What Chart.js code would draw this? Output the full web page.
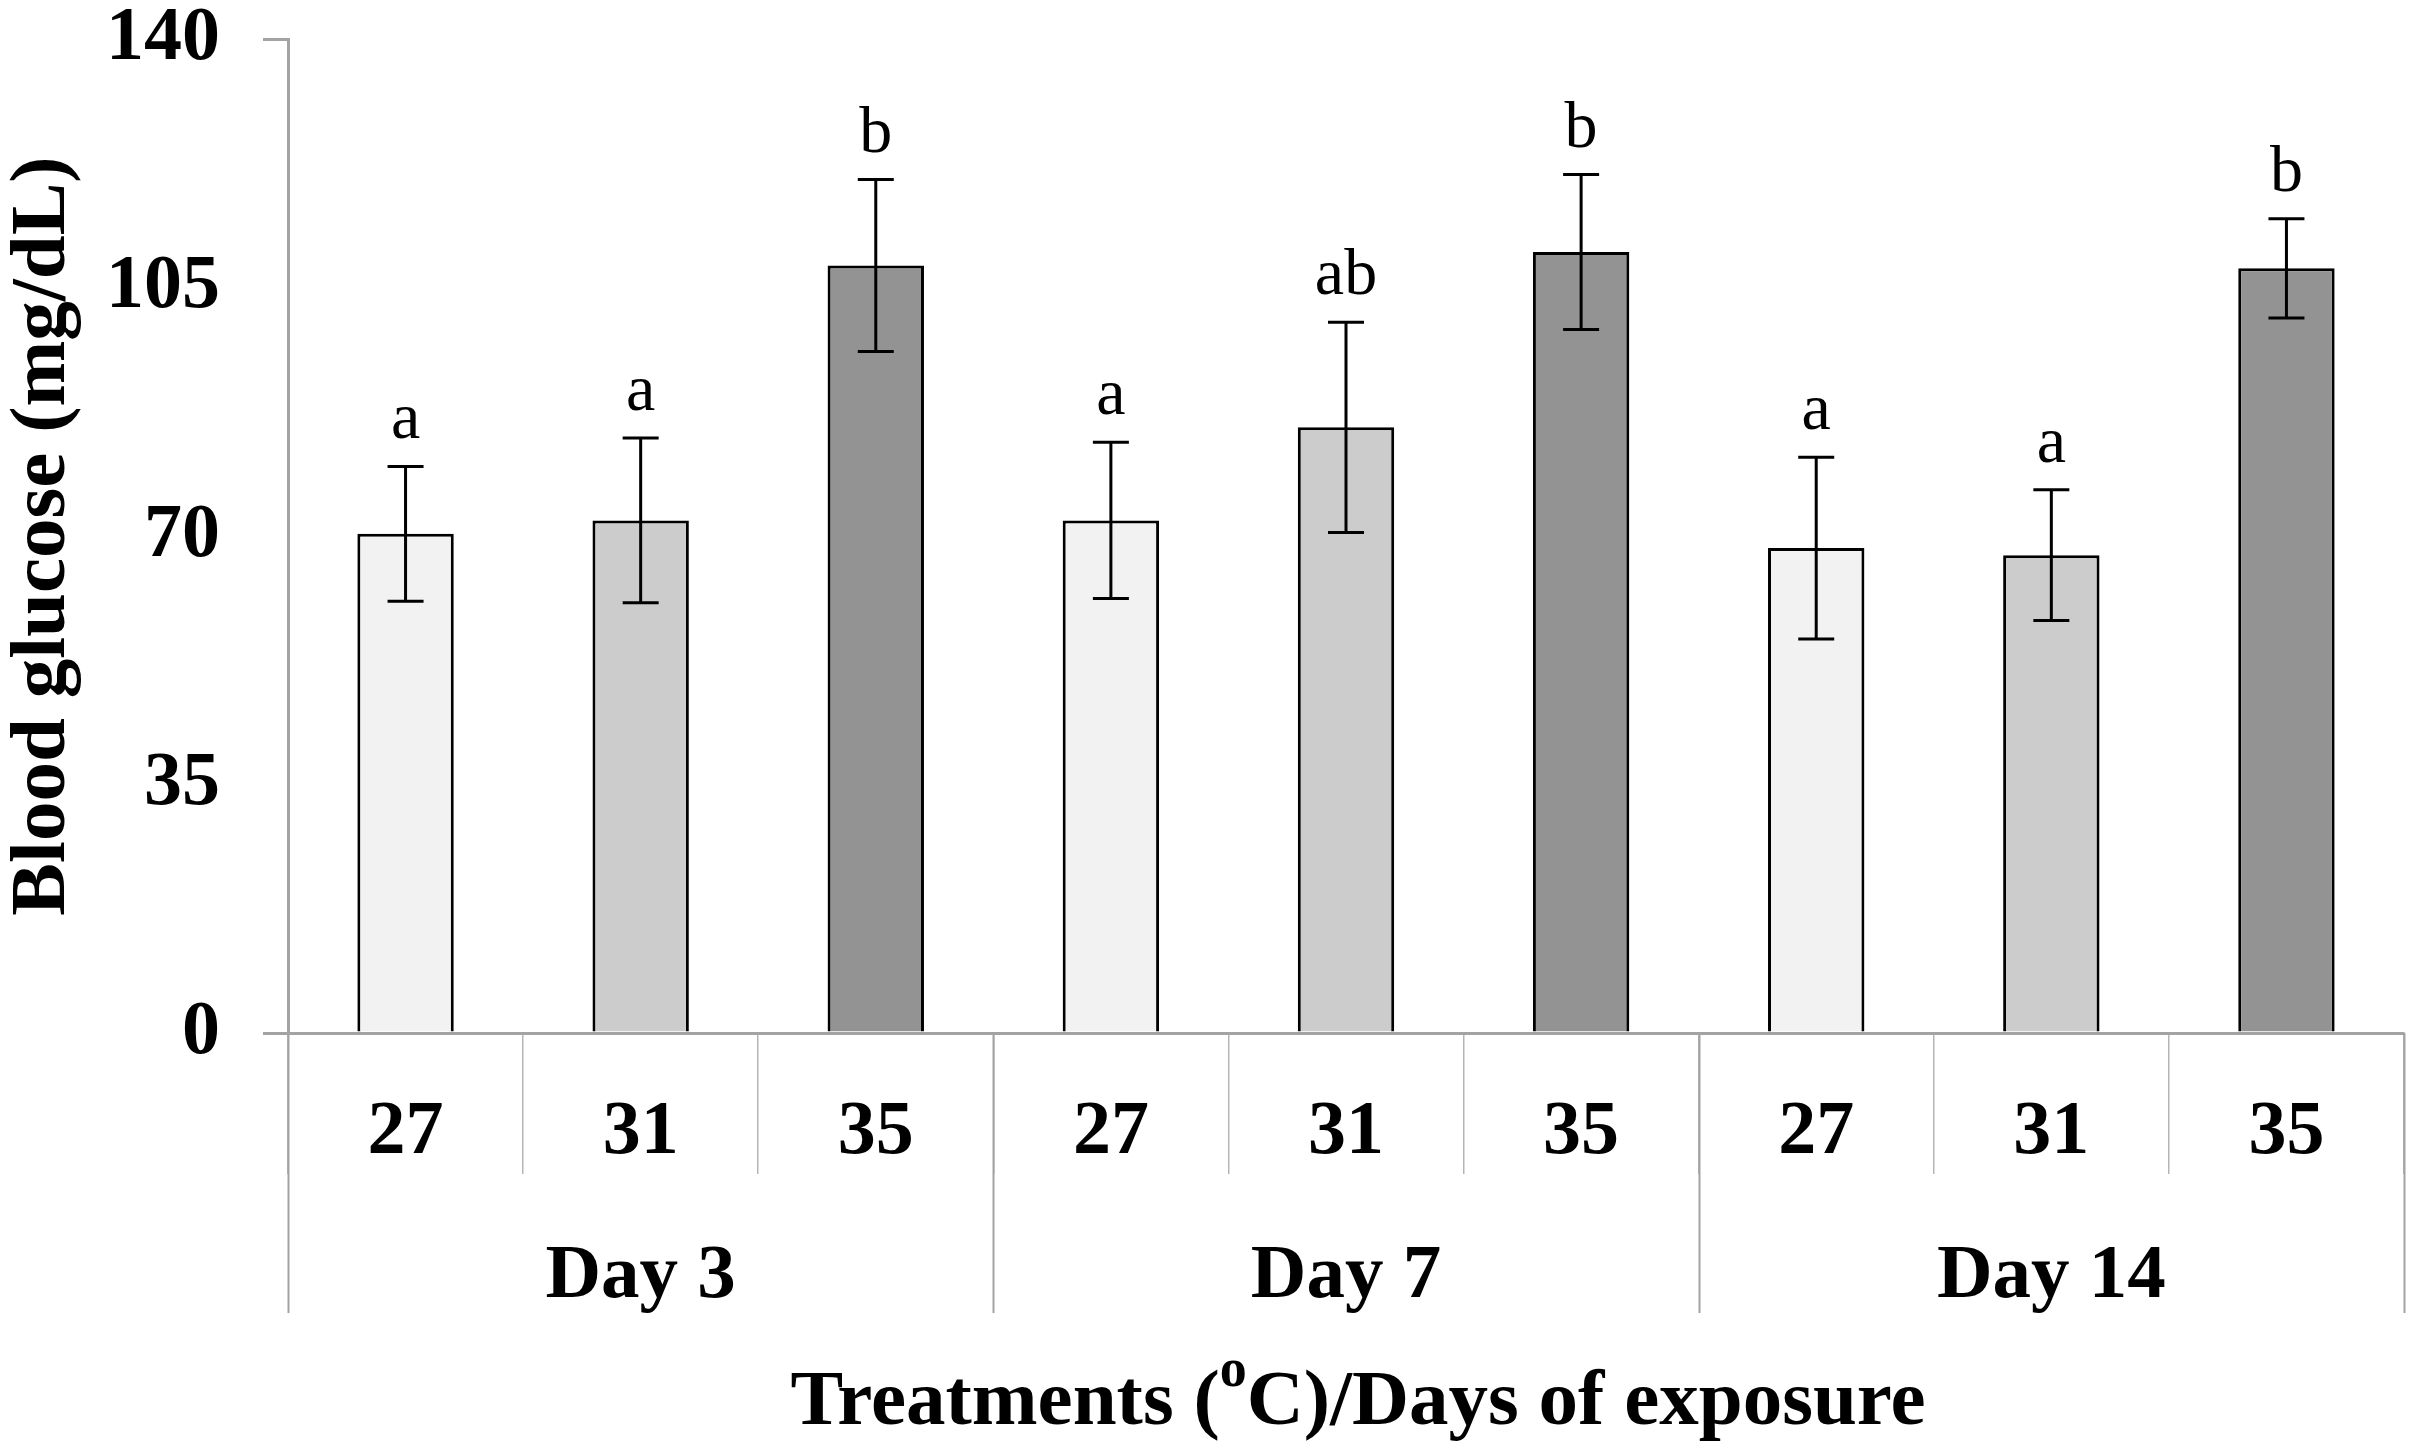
<!DOCTYPE html>
<html>
<head>
<meta charset="utf-8">
<script src="https://cdn.jsdelivr.net/npm/chart.js@4.4.1/dist/chart.umd.min.js"></script>
<style>
  html, body { margin: 0; padding: 0; background: #fff; }
  #wrap { width: 2413px; height: 1445px; }
</style>
</head>
<body>
<div id="wrap"><canvas id="graph"></canvas></div>
<script>
// data
var temps   = ["27", "31", "35", "27", "31", "35", "27", "31", "35"];
var days    = ["Day 3", "Day 7", "Day 14"];
var glucose = [70.3, 72.2, 108.1, 72.2, 85.3, 110.0, 68.3, 67.3, 107.7];
var sd      = [9.5, 11.6, 12.1, 11.0, 14.8, 10.9, 12.8, 9.2, 7.0];
var letters = ["a", "a", "b", "a", "ab", "b", "a", "a", "b"];
var yTicks  = [0, 35, 70, 105, 140];

// bar fill per temperature
var fills   = ["#f2f2f2", "#cccccc", "#939393"];

var SERIF   = "'Liberation Serif', 'Times New Roman', serif";
var GREY    = "#a3a3a3";

//エラーバー・有意差の文字・下の区切り線と見出しを描くプラグイン
var extras = {
    id: "extras",
    afterDatasetsDraw: function(chart){
        let ctx  = chart.ctx;
        let x    = chart.scales.x;
        let y    = chart.scales.y;

        ctx.save();
        ctx.strokeStyle = "#000";
        ctx.lineWidth   = 3;
        ctx.fillStyle   = "#000";
        ctx.font        = "66px " + SERIF;
        ctx.textAlign   = "center";
        ctx.textBaseline = "alphabetic";

        for (let i=0;i<glucose.length;i++){
            let cx  = x.getPixelForValue(i);
            let top = y.getPixelForValue(glucose[i] + sd[i]);
            let bot = y.getPixelForValue(glucose[i] - sd[i]);

            ctx.beginPath();
            ctx.moveTo(cx, top);
            ctx.lineTo(cx, bot);
            ctx.moveTo(cx - 18, top);
            ctx.lineTo(cx + 18, top);
            ctx.moveTo(cx - 18, bot);
            ctx.lineTo(cx + 18, bot);
            ctx.stroke();

            ctx.fillText(letters[i], cx, top - 28);
        }
        ctx.restore();
    },
    afterDraw: function(chart){
        let ctx  = chart.ctx;
        let x    = chart.scales.x;
        let area = chart.chartArea;
        let step = x.getPixelForValue(1) - x.getPixelForValue(0);

        ctx.save();

        //グループ境界の長い区切り線
        ctx.strokeStyle = GREY;
        ctx.lineWidth   = 2;
        for (let g=0;g<=days.length;g++){
            let px = Math.round(x.getPixelForValue(g*3) - step/2) + 0.5;
            ctx.beginPath();
            ctx.moveTo(px, area.bottom);
            ctx.lineTo(px, area.bottom + 280);
            ctx.stroke();
        }

        ctx.fillStyle    = "#000";
        ctx.textAlign    = "center";
        ctx.textBaseline = "alphabetic";

        //温度のラベル
        ctx.font = "bold 76px " + SERIF;
        for (let i=0;i<temps.length;i++){
            ctx.fillText(temps[i], x.getPixelForValue(i), 1153);
        }

        //日数の見出し
        ctx.font = "bold 77px " + SERIF;
        for (let g=0;g<days.length;g++){
            ctx.fillText(days[g], x.getPixelForValue(g*3 + 1), 1297);
        }

        //軸タイトル(oは上付き)
        let big   = "bold 79px " + SERIF;
        let small = "bold 54px " + SERIF;
        let p1 = "Treatments (", p2 = "o", p3 = "C)/Days of exposure";
        ctx.font = big;
        let w1 = ctx.measureText(p1).width;
        let w3 = ctx.measureText(p3).width;
        ctx.font = small;
        let w2 = ctx.measureText(p2).width;
        let cx = 1358;
        let sx = cx - (w1 + w2 + w3)/2;
        ctx.textAlign = "left";
        ctx.font = big;
        ctx.fillText(p1, sx, 1424);
        ctx.font = small;
        ctx.fillText(p2, sx + w1, 1386);
        ctx.font = big;
        ctx.fillText(p3, sx + w1 + w2, 1424);

        ctx.restore();
    }
};

window.addEventListener("load", function(){

    let ctx = document.getElementById("graph");

    let data = {
        labels: temps,
        datasets: [ {
            data: glucose,
            backgroundColor: temps.map(function(t, i){ return fills[i % 3]; }),
            borderColor: "#000",
            borderWidth: 3,
            borderSkipped: "bottom",
            barPercentage: 0.41,
            categoryPercentage: 1.0
        } ]
    };

    let options = {
        responsive: true,
        maintainAspectRatio: false,
        animation: false,
        layout: { padding: { top: 39, right: 9, bottom: 271, left: 0 } },
        plugins: {
            legend: { display: false },
            tooltip: { enabled: false }
        },
        scales: {
            x: {
                offset: true,
                grid: {
                    display: true,
                    offset: true,
                    drawOnChartArea: false,
                    drawTicks: true,
                    tickLength: 141,
                    color: "#b5b5b5",
                    lineWidth: 1.5
                },
                border: { display: true, color: GREY, width: 3 },
                ticks: { display: false },
                afterFit: function(axis){ axis.height = 141; }
            },
            y: {
                min: 0,
                max: 140,
                afterBuildTicks: function(axis){
                    axis.ticks = yTicks.map(function(v){ return { value: v }; });
                },
                afterFit: function(axis){
                    axis.width = 288;
                    axis.paddingTop = 0;
                    axis.paddingBottom = 0;
                },
                grid: {
                    drawOnChartArea: false,
                    drawTicks: true,
                    tickLength: 25,
                    lineWidth: 3,
                    color: function(c){
                        let v = c.tick ? c.tick.value : null;
                        return (v === 0 || v === 140) ? GREY : "rgba(0,0,0,0)";
                    }
                },
                border: { display: true, color: GREY, width: 3 },
                ticks: {
                    color: "#000",
                    padding: 43,
                    font: { family: SERIF, size: 76, weight: "bold", lineHeight: 1 }
                },
                title: {
                    display: true,
                    text: "Blood glucose (mg/dL)",
                    color: "#000",
                    padding: { top: 4, bottom: 23 },
                    font: { family: SERIF, size: 79, weight: "bold", lineHeight: 1 }
                }
            }
        }
    };

    new Chart(ctx, {
        type: "bar",
        data: data,
        options: options,
        plugins: [extras]
    });
});
</script>
</body>
</html>
